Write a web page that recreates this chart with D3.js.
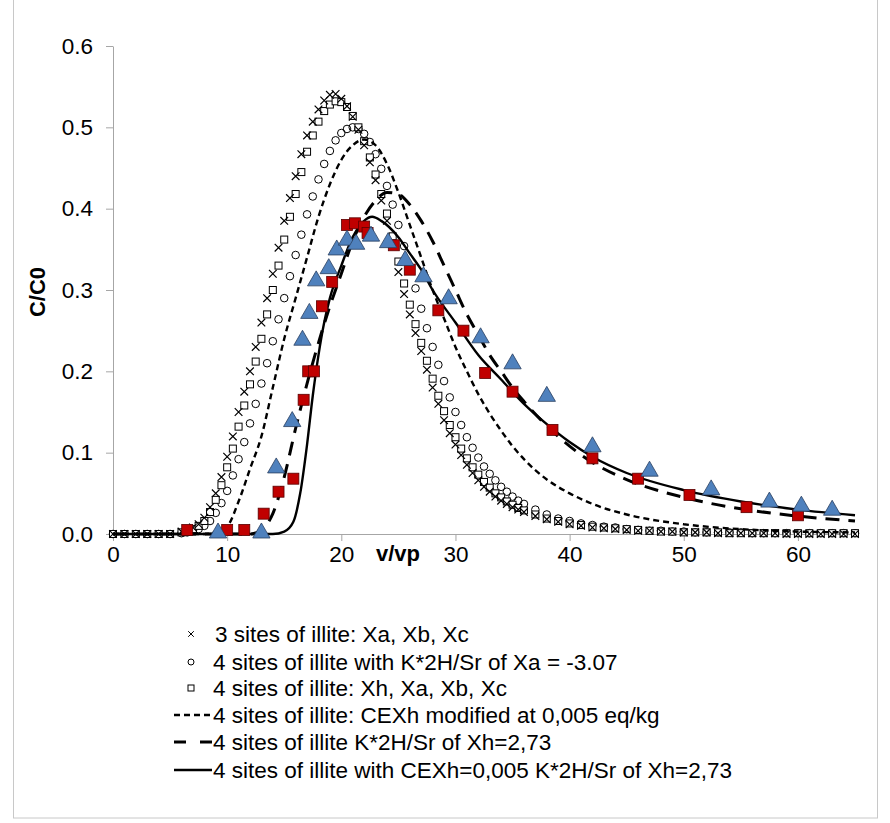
<!DOCTYPE html>
<html><head><meta charset="utf-8">
<script src="https://cdn.jsdelivr.net/npm/d3@7"></script>
<style>body{margin:0;background:#fff}svg{font-family:"Liberation Sans",Arial,sans-serif}</style>
</head><body><svg id="c" width="890" height="823"></svg>
<script>
const xGrid=[0,1,2,3,4,5,6,6.5,7,7.5,8,8.5,9,9.5,10,10.5,11,11.5,12,12.5,13,13.5,14,14.5,15,15.5,16,16.5,17,17.5,18,18.5,19,19.5,20,20.5,21,21.5,22,22.5,23,23.5,24,24.5,25,25.5,26,26.5,27,27.5,28,28.5,29,29.5,30,30.5,31,31.5,32,32.5,33,33.5,34,34.5,35,35.5,36,37,38,39,40,41,42,43,44,45,46,47,48,49,50,51,52,53,54,55,56,57,58,59,60,61,62,63,64,65];
const sites3=[0,0,0,0,0,0,0.003,0.005,0.008,0.012,0.02,0.033,0.05,0.07,0.095,0.12,0.15,0.175,0.2,0.23,0.26,0.29,0.32,0.352,0.385,0.413,0.44,0.467,0.49,0.507,0.522,0.533,0.54,0.541,0.535,0.526,0.513,0.497,0.478,0.457,0.435,0.41,0.385,0.355,0.322,0.295,0.27,0.247,0.225,0.202,0.18,0.16,0.14,0.124,0.11,0.097,0.085,0.075,0.066,0.058,0.052,0.046,0.041,0.037,0.033,0.03,0.027,0.022,0.018,0.015,0.012,0.01,0.008,0.007,0.006,0.005,0.004,0.004,0.003,0.003,0.002,0.002,0.002,0.001,0.001,0.001,0.001,0.001,0.001,0,0,0,0,0,0,0];
const sites4Xa=[0,0,0,0,0,0,0.001,0.002,0.004,0.006,0.01,0.016,0.026,0.038,0.053,0.072,0.092,0.113,0.136,0.16,0.185,0.21,0.237,0.264,0.29,0.317,0.343,0.368,0.393,0.415,0.436,0.455,0.471,0.484,0.493,0.498,0.5,0.498,0.492,0.482,0.467,0.449,0.428,0.405,0.38,0.354,0.328,0.302,0.277,0.253,0.23,0.208,0.188,0.168,0.15,0.134,0.119,0.106,0.094,0.083,0.074,0.066,0.058,0.052,0.046,0.041,0.037,0.03,0.024,0.019,0.016,0.013,0.011,0.009,0.008,0.006,0.005,0.004,0.004,0.003,0.003,0.002,0.002,0.002,0.002,0.002,0.001,0.001,0.001,0.001,0.001,0.001,0.001,0.001,0.001,0.001];
const sites4=[0,0,0,0,0,0,0.002,0.004,0.006,0.01,0.016,0.027,0.042,0.06,0.082,0.105,0.132,0.158,0.184,0.212,0.24,0.27,0.3,0.33,0.362,0.39,0.418,0.445,0.47,0.49,0.507,0.52,0.528,0.532,0.531,0.525,0.514,0.5,0.483,0.463,0.442,0.418,0.394,0.366,0.335,0.308,0.282,0.258,0.235,0.213,0.191,0.17,0.151,0.134,0.119,0.105,0.093,0.082,0.073,0.064,0.057,0.05,0.045,0.04,0.036,0.032,0.029,0.024,0.019,0.016,0.013,0.011,0.009,0.008,0.007,0.006,0.005,0.004,0.003,0.003,0.002,0.002,0.002,0.002,0.001,0.001,0.001,0.001,0.001,0.001,0.001,0.001,0.001,0.001,0.001,0.001];
const cexX=[0,8,10,11,12,13,14,15,16,17,18,19,20,21,22,23,24,25,26,27,28,29,30,31,32,33,34,35,36,38,40,42,45,50,55,60,65];
const cexY=[0,0,0.01,0.04,0.08,0.12,0.18,0.24,0.29,0.34,0.39,0.43,0.46,0.478,0.485,0.478,0.455,0.42,0.38,0.34,0.3,0.265,0.23,0.2,0.172,0.148,0.127,0.108,0.092,0.067,0.05,0.037,0.024,0.012,0.006,0.003,0.002];
const kX=[0,12,13,14,15,16,17,18,19,20,21,22,23,24,25,26,27,28,29,30,31,32,33,34,35,36,38,40,42,45,50,55,60,65];
const kY=[0,0,0.005,0.025,0.07,0.13,0.185,0.235,0.28,0.32,0.36,0.39,0.41,0.42,0.418,0.405,0.385,0.36,0.33,0.3,0.27,0.245,0.22,0.2,0.18,0.163,0.133,0.108,0.088,0.067,0.045,0.031,0.022,0.016];
const bothX=[0,14,15,15.8,16.4,17,17.5,18,18.5,19,20,21,22,22.7,23.5,25,26,27,28,30,32,34,36,38,40,42,45,50,55,60,65];
const bothY=[0,0,0.003,0.015,0.05,0.11,0.17,0.22,0.26,0.29,0.33,0.365,0.385,0.39,0.385,0.365,0.345,0.325,0.3,0.26,0.22,0.19,0.16,0.135,0.113,0.095,0.075,0.054,0.04,0.03,0.023];
const redX=[6.5,10,11.5,13.2,14.5,15.8,16.7,17.1,17.6,18.3,19.2,20.5,21.2,22,22.3,24.6,26,28.5,30.7,32.6,35,38.5,42,46,50.5,55.5,60];
const redY=[0.005,0.005,0.005,0.025,0.052,0.068,0.165,0.2,0.2,0.28,0.31,0.38,0.382,0.378,0.37,0.355,0.325,0.275,0.25,0.198,0.175,0.128,0.093,0.068,0.048,0.033,0.023];
const blueX=[9.2,13,14.3,15.7,16.6,17.2,17.8,18.9,19.6,20.5,21.3,22.6,24.1,25.6,27.2,29.4,32.2,35,38,42,47,52.4,57.5,60.3,63];
const blueY=[0,0,0.08,0.137,0.237,0.27,0.31,0.325,0.348,0.36,0.355,0.365,0.357,0.335,0.315,0.288,0.24,0.208,0.168,0.106,0.076,0.053,0.038,0.033,0.028];
const xTicks=[0,10,20,30,40,50,60];
const yTicks=[0,0.1,0.2,0.3,0.4,0.5,0.6];
const legendLabels=["3 sites of illite: Xa, Xb, Xc","4 sites of illite with K*2H/Sr of Xa = -3.07","4 sites of illite: Xh, Xa, Xb, Xc","4 sites of illite: CEXh modified at 0,005 eq/kg","4 sites of illite  K*2H/Sr of Xh=2,73","4 sites of illite with CEXh=0,005 K*2H/Sr of Xh=2,73"];

const svg=d3.select("#c");
svg.append("rect").attr("x",13.5).attr("y",-1).attr("width",864).attr("height",819).attr("fill","none").attr("stroke","#c8c8c8");
const x=d3.scaleLinear().domain([0,65]).range([113,855]);
const y=d3.scaleLinear().domain([0,0.6]).range([534,46]);
const grey="#a6a6a6";
const ya=svg.append("g").attr("transform","translate(113,0)").call(d3.axisLeft(y).tickValues(yTicks).tickFormat(d3.format(".1f")).tickSize(7).tickSizeOuter(0));
const xa=svg.append("g").attr("transform","translate(0,534)").call(d3.axisBottom(x).tickValues(xTicks).tickSize(7).tickSizeOuter(0));
[ya,xa].forEach(g=>{g.attr("font-size",null).attr("font-family",null);g.selectAll("path,line").attr("stroke",grey);g.selectAll("text").style("font-size","22.5px").attr("fill","#000");});
ya.selectAll("text").attr("x",-20);
xa.selectAll("text").attr("y",12);
svg.append("text").attr("x",398).attr("y",561).attr("text-anchor","middle").attr("font-weight","bold").style("font-size","22px").text("v/vp");
svg.append("text").attr("transform","translate(45,292) rotate(-90)").attr("text-anchor","middle").attr("font-weight","bold").style("font-size","22px").text("C/C0");

const line=d3.line().x(d=>x(d[0])).y(d=>y(d[1])).curve(d3.curveMonotoneX);
const zip=(a,b)=>a.map((v,i)=>[v,b[i]]);
const g=svg.append("g");
g.selectAll(".ci").data(zip(xGrid,sites4Xa)).join("circle").attr("cx",d=>x(d[0])).attr("cy",d=>y(d[1])).attr("r",3.8).attr("fill","none").attr("stroke","#000").attr("stroke-width",1);
g.selectAll(".sq").data(zip(xGrid,sites4)).join("rect").attr("x",d=>x(d[0])-3.5).attr("y",d=>y(d[1])-3.5).attr("width",7).attr("height",7).attr("fill","#fff").attr("stroke","#000").attr("stroke-width",1);
const cr=d3.symbol().type(d3.symbolX).size(40);
g.selectAll(".cr").data(zip(xGrid,sites3)).join("path").attr("d",cr).attr("transform",d=>`translate(${x(d[0])},${y(d[1])})`).attr("fill","none").attr("stroke","#000").attr("stroke-width",1.2);
g.append("path").attr("d",line(zip(cexX,cexY))).attr("fill","none").attr("stroke","#000").attr("stroke-width",2.4).attr("stroke-dasharray","6,4");
g.append("path").attr("d",line(zip(kX,kY))).attr("fill","none").attr("stroke","#000").attr("stroke-width",3).attr("stroke-dasharray","14,9");
g.append("path").attr("d",line(zip(bothX,bothY))).attr("fill","none").attr("stroke","#000").attr("stroke-width",2.4);
g.selectAll(".rd").data(zip(redX,redY)).join("rect").attr("x",d=>x(d[0])-5.5).attr("y",d=>y(d[1])-5.5).attr("width",11).attr("height",11).attr("fill","#c00000").attr("stroke","#5a0000").attr("stroke-width",0.8);
const tri=d3.symbol().type(d3.symbolTriangle).size(130);
g.selectAll(".bl").data(zip(blueX,blueY)).join("path").attr("d",tri).attr("transform",d=>`translate(${x(d[0])},${y(d[1])-1})`).attr("fill","#4f81bd").attr("stroke","#2a3f5f").attr("stroke-width",0.8);

const ly=[634,662,688,715,742,770];
const lg=svg.append("g").style("font-size","22.5px");
const tx=[215,213,213,213,213,213];
legendLabels.forEach((t,i)=>{lg.append("text").attr("x",tx[i]).attr("y",ly[i]+8).text(t);});
lg.append("path").attr("d",d3.symbol().type(d3.symbolX).size(22)).attr("transform",`translate(191,${ly[0]})`).attr("stroke","#000").attr("fill","none");
lg.append("circle").attr("cx",191).attr("cy",ly[1]).attr("r",3).attr("fill","none").attr("stroke","#000");
lg.append("rect").attr("x",188).attr("y",ly[2]-3).attr("width",6).attr("height",6).attr("fill","#fff").attr("stroke","#000");
lg.append("line").attr("x1",174).attr("x2",212).attr("y1",ly[3]).attr("y2",ly[3]).attr("stroke","#000").attr("stroke-width",2.4).attr("stroke-dasharray","6,4");
lg.append("line").attr("x1",174).attr("x2",212).attr("y1",ly[4]).attr("y2",ly[4]).attr("stroke","#000").attr("stroke-width",3).attr("stroke-dasharray","12,14");
lg.append("line").attr("x1",174).attr("x2",212).attr("y1",ly[5]).attr("y2",ly[5]).attr("stroke","#000").attr("stroke-width",2.4);
</script></body></html>
